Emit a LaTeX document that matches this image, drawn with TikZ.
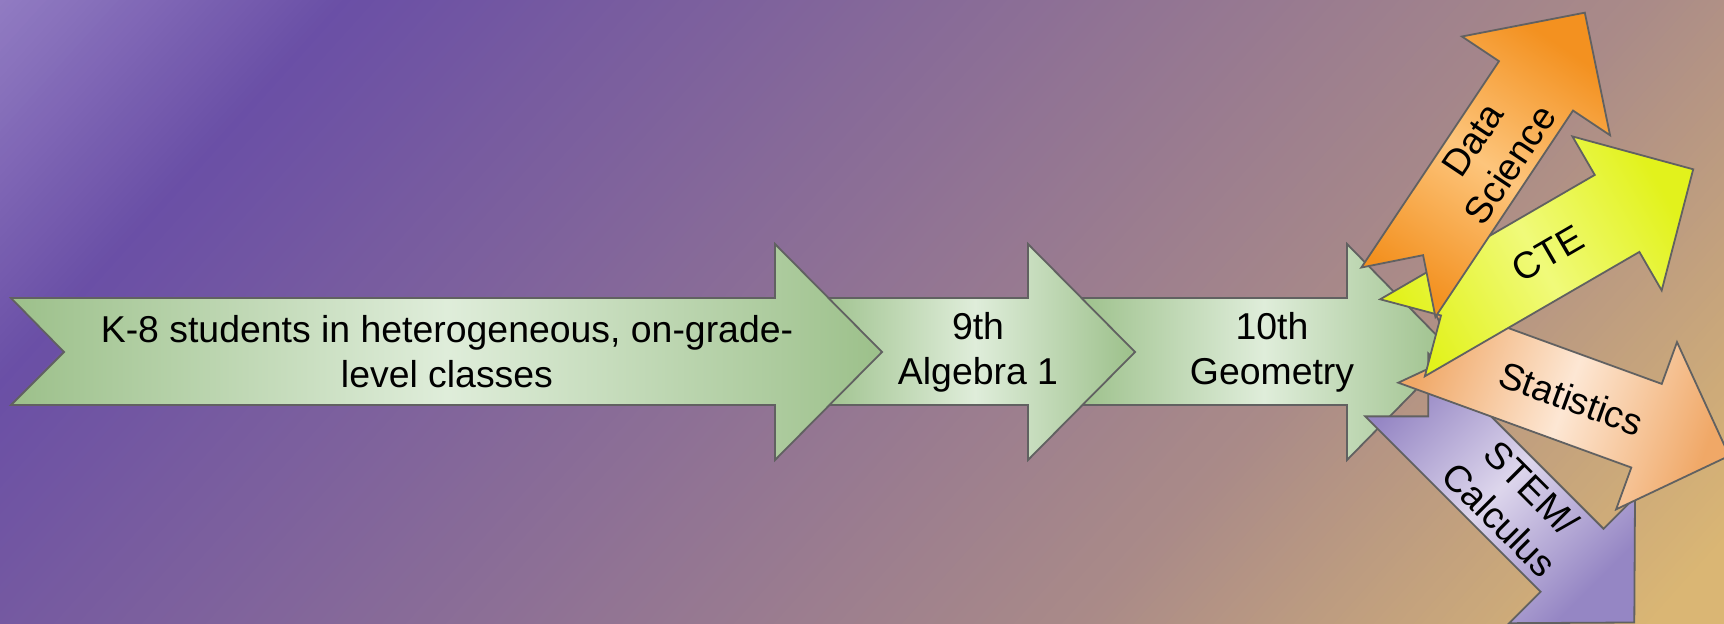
\documentclass[tikz,border=0pt]{standalone}
\usepackage{fontspec}
\setmainfont{Liberation Sans}
\usepackage{tikz}

\definecolor{bgtop}{HTML}{917BC2}
\definecolor{bgpurple}{HTML}{6A4FA6}
\definecolor{bgmauve}{HTML}{AA8B88}
\definecolor{bggold}{HTML}{DAB674}
\definecolor{grdark}{HTML}{9CC08A}
\definecolor{grlight}{HTML}{DFEDDA}
\definecolor{ordark}{HTML}{F39120}
\definecolor{orlight}{HTML}{FDC57C}
\definecolor{yedark}{HTML}{E2F21C}
\definecolor{yelight}{HTML}{F0FA7A}
\definecolor{pedark}{HTML}{F0A867}
\definecolor{pelight}{HTML}{FDE7D4}
\definecolor{pudark}{HTML}{9586C4}
\definecolor{pulight}{HTML}{DDD6EC}

\tikzset{
  arrowline/.style={draw=black!62, line width=0.9pt, line join=miter},
  lbl/.style={align=center, inner sep=0pt, font=\fontsize{18.7}{22.5}\selectfont},
  greenarrow/.style={arrowline, left color=grdark, right color=grdark, middle color=grlight}
}

\begin{document}
\begin{tikzpicture}[x=0.5pt, y=-0.5pt]
			\useasboundingbox (0,0) rectangle (1724,624);
			\clip (0,0) rectangle (1724,624);

			% background
			\foreach \s in {0,8,...,2288}{
				\ifdim\s pt<340pt
					\pgfmathsetmacro{\p}{\s/340*100}
					\colorlet{bgc}{bgpurple!\p!bgtop}
				\else\ifdim\s pt<1650pt
					\pgfmathsetmacro{\p}{(\s-340)/1310*100}
					\colorlet{bgc}{bgmauve!\p!bgpurple}
				\else
					\pgfmathsetmacro{\p}{min(100,(\s-1650)/560*100)}
					\colorlet{bgc}{bggold!\p!bgmauve}
				\fi\fi
				\fill[bgc] ({\s-1},0) -- ({\s+9},0) -- ({\s+9-561.6},624) -- ({\s-1-561.6},624) -- cycle;
			}

			% green steps
			\draw[greenarrow] (1075,298) -- (1347,298) -- (1347,244) -- (1453,352) -- (1347,460) -- (1347,405) -- (1075,405) -- (1128,352) -- cycle;
			\node[lbl] (geo) at (1272,352) {10th\\Geometry};

			\draw[greenarrow] (815,298) -- (1028,298) -- (1028,244) -- (1135,352) -- (1028,460) -- (1028,405) -- (815,405) -- (868,352) -- cycle;
			\node[lbl] (alg) at (978,352) {9th\\Algebra 1};

			\draw[greenarrow] (11,298) -- (775,298) -- (775,244) -- (882,352) -- (775,460) -- (775,405) -- (11,405) -- (64,352) -- cycle;
			\node[lbl] (k8) at (447,352) {K-8 students in heterogeneous, on-grade-\\level classes};

			% pathways
			\begin{scope}[shift={(1396.7,384.9)}, rotate=-45]
				\draw[arrowline, left color=pudark, right color=pudark, middle color=pulight, shading angle=45] (0,44.5) -- (248,44.5) -- (248,89) -- (336,0) -- (248,-89) -- (248,-44.5) -- (0,-44.5) -- (44.5,0) -- cycle;
				\node[lbl, rotate=-45] (stem) at (168,0) {STEM/\\Calculus};
			\end{scope}

			\begin{scope}[shift={(1413.5,340.9)}, rotate=-20]
				\draw[arrowline, left color=pedark, right color=pedark, middle color=pelight, shading angle=70] (0,44.5) -- (248,44.5) -- (248,89) -- (336,0) -- (248,-89) -- (248,-44.5) -- (0,-44.5) -- (44.5,0) -- cycle;
				\node[lbl, rotate=-20] (stat) at (168,0) {Statistics};
			\end{scope}

			\begin{scope}[shift={(1402.5,337.8)}, rotate=30.1]
				\draw[arrowline, left color=yedark, right color=yedark, middle color=yelight, shading angle=-59.9] (0,44.5) -- (248,44.5) -- (248,89) -- (336,0) -- (248,-89) -- (248,-44.5) -- (0,-44.5) -- (44.5,0) -- cycle;
				\node[lbl, rotate=30.1] (cte) at (168,0) {CTE};
			\end{scope}

			\begin{scope}[shift={(1398.4,292.2)}, rotate=56.3]
				\draw[arrowline, left color=ordark, right color=ordark, middle color=orlight, shading angle=-33.7] (0,44.5) -- (248,44.5) -- (248,89) -- (336,0) -- (248,-89) -- (248,-44.5) -- (0,-44.5) -- (44.5,0) -- cycle;
				\node[lbl, rotate=56.3] (datasci) at (168,0) {Data\\Science};
			\end{scope}
		\end{tikzpicture}
\end{document}
